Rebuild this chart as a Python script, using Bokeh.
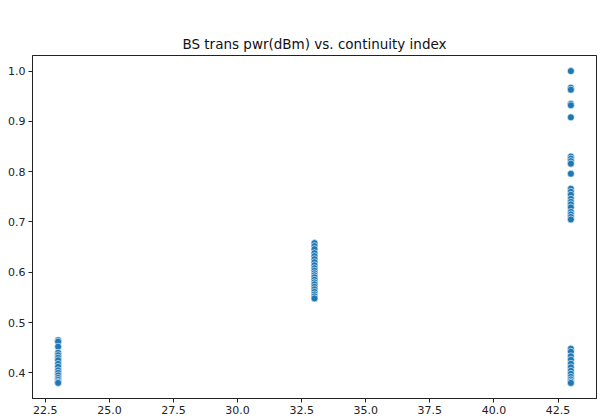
from bokeh.plotting import figure
from bokeh.models import FixedTicker, NumeralTickFormatter, ColumnDataSource, Label
from bokeh.embed import file_html
from bokeh.resources import INLINE

# BS transmit power (dBm) categories and continuity index values
pwr_23 = [0.465, 0.462, 0.452, 0.440, 0.435, 0.430, 0.425, 0.418, 0.412, 0.405,
          0.400, 0.395, 0.390, 0.386, 0.382, 0.380]
pwr_33 = [0.658, 0.652, 0.646, 0.638, 0.632, 0.626, 0.620, 0.614, 0.608, 0.603,
          0.598, 0.594, 0.590, 0.585, 0.580, 0.576, 0.571, 0.566, 0.561, 0.556,
          0.552, 0.548]
pwr_43 = [1.000, 0.967, 0.963, 0.935, 0.932, 0.908, 0.830, 0.826, 0.821, 0.816,
          0.796, 0.766, 0.760, 0.754, 0.746, 0.740, 0.735, 0.729, 0.720, 0.715,
          0.710, 0.705,
          0.448, 0.442, 0.433, 0.426, 0.418, 0.411, 0.404, 0.398, 0.392, 0.387,
          0.383, 0.380]
powers = [23, 33, 43]
x_ticks = [22.5, 25.0, 27.5, 30.0, 32.5, 35.0, 37.5, 40.0, 42.5]
y_ticks = [0.4, 0.5, 0.6, 0.7, 0.8, 0.9, 1.0]
panel_tag = "(c)"

xs, ys = [], []
for pw, vals in zip(powers, [pwr_23, pwr_33, pwr_43]):
    xs += [pw] * len(vals)
    ys += vals
src = ColumnDataSource(dict(x=xs, y=ys))

p = figure(width=616, height=420, output_backend="svg", toolbar_location=None,
           x_range=(22, 44), y_range=(0.349, 1.031),
           title="BS trans pwr(dBm) vs. continuity index",
           min_border_left=32, min_border_right=20, min_border_top=55, min_border_bottom=22)
p.title.align = "center"
p.title.text_font = "DejaVu Sans"
p.title.text_font_size = "13.5px"
p.title.text_font_style = "normal"
p.title.text_color = "#111111"
p.title.standoff = 8

p.scatter("x", "y", source=src, size=7, fill_color="#1f77b4", line_color="white",
          line_width=0.6)

p.add_layout(Label(x=276, y=397, x_units="screen", y_units="screen", text=panel_tag,
                   text_font="DejaVu Serif", text_font_size="12px", text_color="#111111",
                   text_align="center", text_baseline="top"))

p.xgrid.visible = False
p.ygrid.visible = False
p.outline_line_color = "#222222"
p.outline_line_width = 1

for ax in (p.xaxis, p.yaxis):
    ax.axis_line_color = "#222222"
    ax.major_tick_line_color = "#222222"
    ax.major_tick_out = 4
    ax.major_tick_in = 0
    ax.minor_tick_out = 0
    ax.minor_tick_in = 0
    ax.major_label_text_font = "DejaVu Sans"
    ax.major_label_text_font_size = "11px"
    ax.major_label_text_color = "#222222"
    ax.major_label_standoff = 3
    ax.formatter = NumeralTickFormatter(format="0.0")
p.xaxis.ticker = FixedTicker(ticks=x_ticks)
p.yaxis.ticker = FixedTicker(ticks=y_ticks)

open("out.html", "w").write(file_html(p, INLINE))
